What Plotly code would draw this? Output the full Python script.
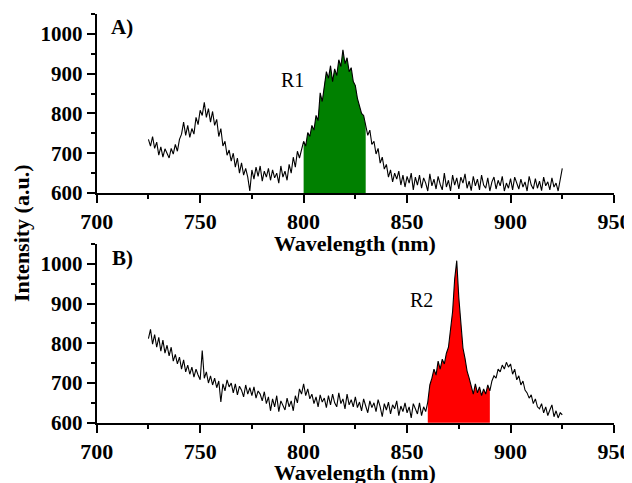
import plotly.graph_objects as go

# ---------------- data ----------------
wavelength = list(range(725, 926))  # nm, 1 nm steps

intensity_A = [
    735, 718, 742, 712, 728, 695, 716, 690, 711, 700,
    688, 712, 698, 722, 705, 735, 748, 778, 745, 770,
    740, 762, 748, 790, 772, 808, 795, 828, 790, 812,
    778, 805, 770, 785, 742, 762, 718, 730, 695, 708,
    680, 700, 665, 688, 650, 676, 645, 662, 640, 605,
    658, 635, 665, 642, 668, 630, 655, 640, 662, 632,
    658, 638, 650, 625, 668, 640, 655, 632, 672, 650,
    690, 665, 705, 688, 712, 730, 718, 752, 742, 770,
    758, 795, 782, 852, 830, 872, 905, 888, 920, 880,
    912, 895, 935, 918, 960, 925, 940, 905, 915, 880,
    870, 838, 822, 800, 795, 770, 745, 758, 722, 730,
    698, 712, 675, 690, 660, 672, 640, 658, 628, 650,
    635, 655, 620, 645, 615, 642, 625, 650, 608, 640,
    620, 645, 612, 638, 625, 605, 648, 618, 635, 610,
    642, 622, 608, 650, 615, 632, 605, 645, 620, 638,
    610, 640, 625, 648, 612, 630, 606, 642, 618, 635,
    608, 645, 620, 612, 638, 605, 628, 640, 610, 632,
    618, 642, 605, 625, 612, 636, 608, 640, 622, 610,
    635, 615, 628, 605, 642, 620, 610, 636, 612, 630,
    606, 640, 618, 628, 608, 638, 615, 625, 605, 632,
    662,
]

intensity_B = [
    812, 835, 798, 822, 790, 815, 780, 808, 775, 795,
    768, 790, 755, 772, 748, 765, 735, 758, 728, 745,
    722, 740, 715, 735, 720, 708, 782, 712, 728, 700,
    718, 695, 712, 688, 705, 652, 698, 680, 708, 690,
    700, 675, 698, 670, 692, 682, 665, 695, 672, 688,
    668, 690, 662, 680, 672, 655, 678, 648, 665, 630,
    660, 640, 668, 628, 655, 645, 632, 662, 640, 655,
    630, 668, 650, 685, 672, 698, 668, 685, 660, 672,
    648, 665, 640, 670, 652, 662, 638, 668, 645, 672,
    650, 640, 675, 648, 660, 635, 672, 645, 658, 640,
    665, 638, 652, 630, 660, 642, 625, 655, 638, 650,
    628, 658, 640, 615, 648, 632, 652, 622, 645, 635,
    655, 618, 642, 628, 650, 625, 640, 612, 648, 635,
    622, 650, 618, 640, 628, 652, 695, 712, 735, 720,
    755, 735, 760, 748, 775, 790, 835, 880, 962, 1008,
    915, 838, 788, 762, 730, 712, 690, 672, 698, 675,
    690, 668, 685, 672, 695, 680, 705, 718, 712, 735,
    728, 745, 735, 752, 740, 748, 722, 735, 708, 718,
    695, 705, 682, 675, 662, 670, 648, 660, 640, 635,
    648, 625, 640, 618, 632, 645, 615, 630, 612, 625,
    620,
]

region_R1 = (800, 830)
region_R2 = (860, 890)

x_ticks = [700, 750, 800, 850, 900, 950]
y_ticks = [600, 700, 800, 900, 1000]

# ---------------- figure ----------------
# the page body has an 8px margin, so the figure is drawn 8px in from the
# window's top-left corner; size and place it in window pixels accordingly
OFF = 8
W, H = 632 - OFF, 483 - OFF
FONT = "Liberation Serif"


def px_x(p):
    return (p - OFF) / W


def px_y(p):
    return 1 - (p - OFF) / H


def subset(xs, ys, lo, hi):
    sx = [x for x in xs if lo <= x <= hi]
    sy = [y for x, y in zip(xs, ys) if lo <= x <= hi]
    return sx, sy


fig = go.Figure()

# Panel A
fx, fy = subset(wavelength, intensity_A, *region_R1)
fig.add_trace(go.Scatter(x=fx, y=fy, mode="lines", fill="tozeroy",
                         fillcolor="#008000", line=dict(width=0, color="#008000"),
                         xaxis="x", yaxis="y", showlegend=False))
fig.add_trace(go.Scatter(x=wavelength, y=intensity_A, mode="lines",
                         line=dict(color="black", width=1.1),
                         xaxis="x", yaxis="y", showlegend=False))

# Panel B
fx, fy = subset(wavelength, intensity_B, *region_R2)
fig.add_trace(go.Scatter(x=fx, y=fy, mode="lines", fill="tozeroy",
                         fillcolor="#ff0000", line=dict(width=0, color="#ff0000"),
                         xaxis="x2", yaxis="y2", showlegend=False))
fig.add_trace(go.Scatter(x=wavelength, y=intensity_B, mode="lines",
                         line=dict(color="black", width=1.1),
                         xaxis="x2", yaxis="y2", showlegend=False))

x_dom = [px_x(96.7), px_x(614)]
yA_dom = [px_y(193), px_y(14)]
yB_dom = [px_y(422.7), px_y(244)]

xaxis_common = dict(
    range=[700, 950], tickvals=x_ticks, showline=True, linecolor="black",
    linewidth=2, ticks="outside", ticklen=8, tickwidth=2, tickcolor="black",
    showgrid=False, zeroline=False, domain=x_dom, automargin=False,
    tickfont=dict(family=FONT, size=22, color="black", weight="bold"),
    minor=dict(ticks="outside", ticklen=4, tickwidth=2, tickcolor="black",
               dtick=25, showgrid=False),
)
yaxis_common = dict(
    range=[600, 1050], tickvals=y_ticks, showline=True, linecolor="black",
    linewidth=2, ticks="outside", ticklen=8, tickwidth=2, tickcolor="black",
    showgrid=False, zeroline=False, automargin=False,
    tickfont=dict(family=FONT, size=21, color="black", weight="bold"),
    minor=dict(ticks="outside", ticklen=4, tickwidth=2, tickcolor="black",
               dtick=50, showgrid=False),
)

fig.update_layout(
    width=W, height=H,
    margin=dict(l=0, r=0, t=0, b=0, autoexpand=False),
    paper_bgcolor="white", plot_bgcolor="white",
    xaxis=dict(**xaxis_common, anchor="y"),
    yaxis=dict(**yaxis_common, domain=yA_dom, anchor="x"),
    xaxis2=dict(**xaxis_common, anchor="y2"),
    yaxis2=dict(**yaxis_common, domain=yB_dom, anchor="x2"),
)

bold = dict(family=FONT, size=22, color="black", weight="bold")
regular = dict(family=FONT, size=20, color="black")

annotations = [
    dict(text="Wavelength (nm)", x=(x_dom[0] + x_dom[1]) / 2, y=px_y(243), font=bold),
    dict(text="Wavelength (nm)", x=(x_dom[0] + x_dom[1]) / 2, y=px_y(472), font=bold),
    dict(text="Intensity (a.u.)", x=px_x(22), y=px_y(233), font=bold, textangle=-90),
    dict(text="A)", x=px_x(122), y=px_y(27), font=dict(bold, size=21)),
    dict(text="B)", x=px_x(122), y=px_y(258), font=dict(bold, size=21)),
    dict(text="R1", x=px_x(292), y=px_y(80), font=regular),
    dict(text="R2", x=px_x(421), y=px_y(300), font=regular),
]
for a in annotations:
    fig.add_annotation(xref="paper", yref="paper", showarrow=False,
                       xanchor="center", yanchor="middle", **a)

fig.write_html("out.html")
